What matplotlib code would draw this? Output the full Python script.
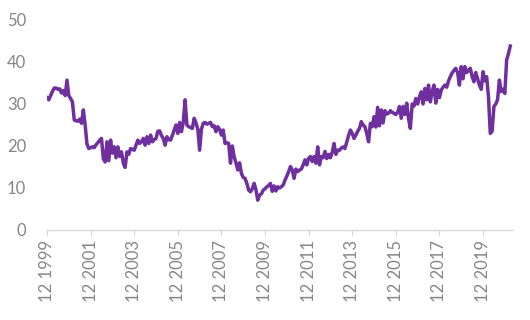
import matplotlib.pyplot as plt
import numpy as np

plt.rcParams["font.family"] = ["Lato", "DejaVu Sans"]

# monthly values, Dec 1999 .. Mar 2021, one row per year (Jan..Dec)
v_1999 = [31.5]
v_2000 = [31.0, 32.0, 33.0, 33.8, 33.8, 33.5, 33.6, 32.6, 33.2, 32.0, 35.7, 32.0]
v_2001 = [31.3, 30.5, 26.2, 26.0, 25.9, 26.4, 25.4, 28.6, 25.0, 20.5, 19.4, 19.6]
v_2002 = [19.8, 19.6, 20.3, 20.8, 21.4, 21.8, 17.0, 16.2, 21.0, 16.5, 21.4, 18.3]
v_2003 = [19.8, 17.2, 19.8, 17.5, 18.6, 15.9, 14.9, 18.6, 18.0, 19.4, 19.2, 19.0]
v_2004 = [20.2, 21.4, 20.6, 21.0, 21.8, 20.2, 22.2, 20.6, 22.6, 21.0, 21.5, 21.8]
v_2005 = [23.5, 23.6, 22.5, 21.8, 20.2, 22.2, 21.5, 21.4, 22.5, 23.8, 25.0, 23.0]
v_2006 = [25.6, 23.4, 25.6, 31.0, 25.0, 24.6, 24.4, 24.2, 26.6, 25.5, 24.0, 19.0]
v_2007 = [24.0, 25.4, 25.6, 25.2, 25.4, 25.6, 24.6, 24.8, 23.4, 24.6, 24.0, 22.6]
v_2008 = [23.8, 20.6, 20.8, 20.6, 15.9, 20.0, 17.5, 16.0, 14.3, 16.0, 13.5, 12.5]
v_2009 = [12.3, 11.1, 9.5, 9.1, 9.8, 11.1, 9.6, 7.1, 8.3, 8.6, 9.5, 9.8]
v_2010 = [10.3, 10.6, 11.1, 9.2, 10.5, 9.3, 10.3, 10.0, 10.3, 10.7, 11.9, 12.8]
v_2011 = [13.9, 15.1, 14.3, 12.3, 14.5, 13.9, 14.3, 14.5, 15.5, 16.7, 15.5, 17.1]
v_2012 = [17.5, 16.3, 17.5, 15.9, 19.8, 15.5, 17.5, 17.2, 18.7, 17.0, 18.0, 17.2]
v_2013 = [18.5, 20.6, 18.0, 19.0, 19.0, 19.5, 19.8, 19.4, 21.0, 22.5, 23.8, 23.0]
v_2014 = [21.8, 22.6, 23.5, 24.2, 25.8, 25.0, 24.6, 23.0, 21.0, 25.4, 24.6, 27.0]
v_2015 = [24.5, 29.2, 24.8, 28.6, 25.5, 28.4, 27.6, 27.8, 28.4, 28.0, 27.8, 27.5]
v_2016 = [28.0, 29.4, 26.6, 29.4, 27.5, 30.2, 26.5, 24.2, 30.0, 29.5, 31.3, 30.0]
v_2017 = [31.7, 32.9, 30.0, 33.7, 31.0, 34.5, 30.5, 33.0, 34.5, 30.2, 33.5, 31.5]
v_2018 = [33.3, 34.0, 34.5, 34.0, 35.5, 36.5, 37.4, 38.0, 38.5, 37.5, 34.5, 38.9]
v_2019 = [36.0, 38.9, 37.5, 38.0, 38.5, 36.5, 35.3, 37.5, 36.0, 34.5, 33.5, 37.7]
v_2020 = [35.5, 36.5, 31.7, 23.0, 23.5, 29.4, 30.0, 31.0, 35.7, 33.0, 33.5, 32.5]
v_2021 = [40.5, 42.0, 43.8]

values = (v_1999 + v_2000 + v_2001 + v_2002 + v_2003 + v_2004 + v_2005
          + v_2006 + v_2007 + v_2008 + v_2009 + v_2010 + v_2011 + v_2012
          + v_2013 + v_2014 + v_2015 + v_2016 + v_2017 + v_2018 + v_2019
          + v_2020 + v_2021)
tick_labels = ["12 1999", "12 2001", "12 2003", "12 2005", "12 2007", "12 2009",
               "12 2011", "12 2013", "12 2015", "12 2017", "12 2019"]

months = np.arange(len(values))
grey = "#868686"

fig = plt.figure(figsize=(5.3, 3.2), dpi=100)
ax = fig.add_axes([47 / 530, 90 / 320, 466 / 530, 210 / 320])
ax.plot(months, values, color="#6f2f9f", lw=2.5, solid_joinstyle="round")

ax.set_ylim(0, 50)
ax.set_xlim(0, 256.5)
ax.set_yticks(range(0, 51, 10))
ax.set_xticks(np.arange(0, len(values), 24))
ax.set_xticklabels(tick_labels, rotation=90)

for side in ["top", "right", "left"]:
    ax.spines[side].set_visible(False)
ax.spines["bottom"].set_color("#d9d9d9")
ax.spines["bottom"].set_linewidth(1.0)
ax.tick_params(axis="y", length=0, pad=15, labelsize=12, labelcolor=grey)
ax.tick_params(axis="x", length=4, color="#d9d9d9", pad=3, labelsize=12,
               labelcolor=grey)

fig.savefig("out.png", dpi=100)
